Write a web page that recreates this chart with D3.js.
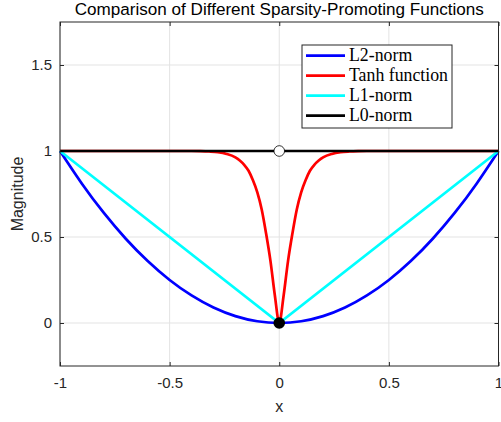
<!DOCTYPE html>
<html>
<head>
<meta charset="utf-8">
<script src="https://cdn.jsdelivr.net/npm/d3@7"></script>
<style>
  body { margin: 0; background: #fff; }
  svg { display: block; }
  .tick text { font-family: "Liberation Sans", Arial, sans-serif; font-size: 15px; fill: #262626; }
</style>
</head>
<body>
<div class="chart"></div>
<script>
// values
var xTicks = [-1, -0.5, 0, 0.5, 1];
var yTicks = [0, 0.5, 1, 1.5];

var l2X = [-1, -0.9, -0.8, -0.7, -0.6, -0.5, -0.4, -0.3, -0.2, -0.1, 0, 0.1, 0.2, 0.3, 0.4, 0.5, 0.6, 0.7, 0.8, 0.9, 1];
var l2Y = [1, 0.81, 0.64, 0.49, 0.36, 0.25, 0.16, 0.09, 0.04, 0.01, 0, 0.01, 0.04, 0.09, 0.16, 0.25, 0.36, 0.49, 0.64, 0.81, 1];

var tanhX = [-1, -0.8, -0.6, -0.5, -0.4, -0.36, -0.32, -0.28, -0.24, -0.2, -0.18, -0.16, -0.14, -0.12, -0.1, -0.08, -0.06, -0.04, -0.02, 0,
             0.02, 0.04, 0.06, 0.08, 0.1, 0.12, 0.14, 0.16, 0.18, 0.2, 0.24, 0.28, 0.32, 0.36, 0.4, 0.5, 0.6, 0.8, 1];
var tanhY = [1, 1, 1, 1, 1, 0.999, 0.997, 0.993, 0.983, 0.963, 0.945, 0.92, 0.885, 0.83, 0.76, 0.66, 0.52, 0.36, 0.16, 0,
             0.16, 0.36, 0.52, 0.66, 0.76, 0.83, 0.885, 0.92, 0.945, 0.963, 0.983, 0.993, 0.997, 0.999, 1, 1, 1, 1, 1];

var l1X = [-1, 0, 1];
var l1Y = [1, 0, 1];

var l0X = [-1, 1];
var l0Y = [1, 1];

var openPoint = [0, 1];
var filledPoint = [0, 0];

var names = ["L2-norm", "Tanh function", "L1-norm", "L0-norm"];
var colors = ["#0000ff", "#ff0000", "#00ffff", "#000000"];

var width = 501;
var height = 422;
var margin = { top: 22, right: 2.5, bottom: 56, left: 60 };

var svg = d3.select(".chart")
	.append("svg")
	.attr("width", width)
	.attr("height", height);

var x = d3.scaleLinear().domain([-1, 1]).range([margin.left, width - margin.right]);
var y = d3.scaleLinear().domain([-0.25, 1.75]).range([height - margin.bottom, margin.top]);

var fmt = function(d) { return String(d); };

// grid
var grid = svg.append("g").attr("class", "grid");
grid.selectAll(".gx")
	.data(xTicks)
	.enter()
	.append("line")
	.attr("x1", function(d) { return x(d); })
	.attr("x2", function(d) { return x(d); })
	.attr("y1", y.range()[0])
	.attr("y2", y.range()[1])
	.attr("stroke", "#e3e3e3")
	.attr("stroke-width", 1);
grid.selectAll(".gy")
	.data(yTicks)
	.enter()
	.append("line")
	.attr("x1", x.range()[0])
	.attr("x2", x.range()[1])
	.attr("y1", function(d) { return y(d); })
	.attr("y2", function(d) { return y(d); })
	.attr("stroke", "#e3e3e3")
	.attr("stroke-width", 1);

// axes (ticks inside, mirrored on top and right)
function styleAxis(g) {
	g.selectAll(".domain").remove();
	g.selectAll(".tick line").attr("stroke", "#262626");
}

svg.append("g")
	.attr("transform", "translate(0," + y.range()[0] + ")")
	.call(d3.axisBottom(x).tickValues(xTicks).tickSizeInner(-4).tickSizeOuter(0).tickPadding(11).tickFormat(fmt))
	.call(styleAxis);
svg.append("g")
	.attr("transform", "translate(0," + y.range()[1] + ")")
	.call(d3.axisTop(x).tickValues(xTicks).tickSizeInner(-4).tickSizeOuter(0).tickFormat(""))
	.call(styleAxis);
svg.append("g")
	.attr("transform", "translate(" + x.range()[0] + ",0)")
	.call(d3.axisLeft(y).tickValues(yTicks).tickSizeInner(-4).tickSizeOuter(0).tickPadding(8).tickFormat(fmt))
	.call(styleAxis);
svg.append("g")
	.attr("transform", "translate(" + x.range()[1] + ",0)")
	.call(d3.axisRight(y).tickValues(yTicks).tickSizeInner(-4).tickSizeOuter(0).tickFormat(""))
	.call(styleAxis);

// lines
var line = d3.line()
	.x(function(d) { return x(d[0]); })
	.y(function(d) { return y(d[1]); });

var series = [
	{ xs: l2X, ys: l2Y, curve: d3.curveNatural },
	{ xs: tanhX, ys: tanhY, curve: d3.curveMonotoneX },
	{ xs: l1X, ys: l1Y, curve: d3.curveLinear },
	{ xs: l0X, ys: l0Y, curve: d3.curveLinear }
];

var plot = svg.append("g").attr("class", "lines");
series.forEach(function(s, i) {
	var pts = s.xs.map(function(v, j) { return [v, s.ys[j]]; });
	plot.append("path")
		.datum(pts)
		.attr("fill", "none")
		.attr("stroke", colors[i])
		.attr("stroke-width", 2.7)
		.attr("d", line.curve(s.curve));
});

// L0 markers
plot.append("circle")
	.attr("cx", x(openPoint[0]))
	.attr("cy", y(openPoint[1]))
	.attr("r", 5.3)
	.attr("fill", "#fff")
	.attr("stroke", "#000")
	.attr("stroke-width", 0.8);
plot.append("circle")
	.attr("cx", x(filledPoint[0]))
	.attr("cy", y(filledPoint[1]))
	.attr("r", 5.8)
	.attr("fill", "#000");

// box
svg.append("rect")
	.attr("x", x.range()[0])
	.attr("y", y.range()[1])
	.attr("width", x.range()[1] - x.range()[0])
	.attr("height", y.range()[0] - y.range()[1])
	.attr("fill", "none")
	.attr("stroke", "#262626")
	.attr("stroke-width", 1);

// labels
svg.append("text")
	.attr("x", (x.range()[0] + x.range()[1]) / 2)
	.attr("y", 15)
	.attr("text-anchor", "middle")
	.attr("font-family", "Liberation Sans, Arial, sans-serif")
	.attr("font-size", 17.1)
	.attr("fill", "#000")
	.text("Comparison of Different Sparsity-Promoting Functions");

svg.append("text")
	.attr("x", x(0))
	.attr("y", 412)
	.attr("text-anchor", "middle")
	.attr("font-family", "Liberation Sans, Arial, sans-serif")
	.attr("font-size", 16)
	.attr("fill", "#262626")
	.text("x");

svg.append("text")
	.attr("transform", "translate(23," + y(0.75) + ") rotate(-90)")
	.attr("text-anchor", "middle")
	.attr("font-family", "Liberation Sans, Arial, sans-serif")
	.attr("font-size", 16)
	.attr("fill", "#262626")
	.text("Magnitude");

// legend
var legend = svg.append("g").attr("class", "legend");
legend.append("rect")
	.attr("x", 302)
	.attr("y", 45)
	.attr("width", 150)
	.attr("height", 83)
	.attr("fill", "#fff")
	.attr("stroke", "#262626")
	.attr("stroke-width", 1);

var item = legend.selectAll(".item")
	.data(names)
	.enter()
	.append("g")
	.attr("class", "item")
	.attr("transform", function(d, i) { return "translate(0," + (55.7 + i * 20) + ")"; });
item.append("line")
	.attr("x1", 306)
	.attr("x2", 345)
	.attr("stroke", function(d, i) { return colors[i]; })
	.attr("stroke-width", 2.7);
item.append("text")
	.attr("x", 349)
	.attr("y", 5.5)
	.attr("font-family", "Liberation Serif, serif")
	.attr("font-size", 17.8)
	.attr("fill", "#000")
	.text(function(d) { return d; });
</script>
</body>
</html>
